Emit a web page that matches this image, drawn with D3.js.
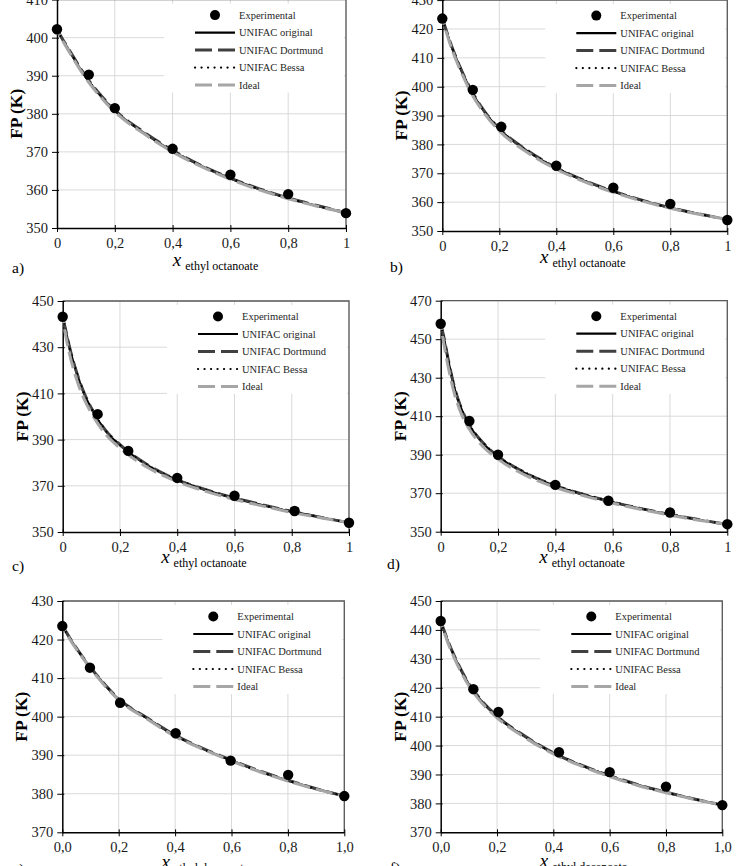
<!DOCTYPE html>
<html>
<head>
<meta charset="utf-8">
<script src="https://cdnjs.cloudflare.com/ajax/libs/d3/7.8.5/d3.min.js"></script>
<style>
body { margin: 0; background: #fff; }
svg text { font-family: "Liberation Serif", "Times New Roman", serif !important; }
</style>
</head>
<body>
<div id="chart"></div>
<script>
// ---- data ----
const legendNames = ["Experimental", "UNIFAC original", "UNIFAC Dortmund", "UNIFAC Bessa", "Ideal"]
const xTickVals = [0, 0.2, 0.4, 0.6, 0.8, 1]
const xLabelsOct = ["0", "0,2", "0,4", "0,6", "0,8", "1"]
const xLabelsDec = ["0,0", "0,2", "0,4", "0,6", "0,8", "1,0"]

// mole fractions where the model curves were read
const curveX = [0, 0.01, 0.025, 0.05, 0.075, 0.1, 0.15, 0.2, 0.3, 0.4, 0.5, 0.6, 0.7, 0.8, 0.9, 1]

// a)
const yTicksA = [350, 360, 370, 380, 390, 400, 410]
const expXA = [0, 0.11, 0.2, 0.4, 0.6, 0.8, 1]
const expYA = [402.2, 390.3, 381.5, 370.8, 364.0, 358.9, 353.9]
const origA = [402.0, 400.7, 398.8, 395.6, 392.5, 389.6, 384.8, 380.8, 375.0, 370.2, 366.3, 363.0, 360.2, 357.8, 355.8, 354.0]
const dortA = [402.0, 400.8, 398.9, 395.8, 392.7, 389.8, 385.0, 381.0, 375.2, 370.4, 366.4, 363.1, 360.3, 357.9, 355.9, 354.0]
const bessaA = [402.0, 400.7, 398.8, 395.7, 392.6, 389.7, 384.9, 380.9, 375.1, 370.3, 366.4, 363.1, 360.2, 357.8, 355.8, 354.0]
const idealA = [402.0, 400.5, 398.5, 395.3, 392.2, 389.3, 384.5, 380.5, 374.8, 370.0, 366.1, 362.8, 360.0, 357.7, 355.7, 354.0]

// b)
const yTicksB = [350, 360, 370, 380, 390, 400, 410, 420, 430]
const expXB = [0, 0.107, 0.207, 0.4, 0.6, 0.8, 1]
const expYB = [423.6, 398.9, 386.1, 372.6, 365.0, 359.4, 353.8]
const origB = [423.5, 420.6, 416.0, 409.5, 403.8, 398.8, 391.0, 385.3, 377.6, 371.8, 367.3, 363.7, 360.6, 358.0, 355.9, 354.0]
const dortB = [423.5, 420.7, 416.2, 409.7, 404.0, 399.0, 391.2, 385.5, 377.8, 371.9, 367.4, 363.8, 360.7, 358.1, 355.9, 354.0]
const bessaB = [423.5, 420.6, 416.1, 409.6, 403.9, 398.9, 391.1, 385.4, 377.7, 371.9, 367.4, 363.7, 360.6, 358.0, 355.9, 354.0]
const idealB = [423.5, 420.2, 415.5, 408.8, 403.1, 398.1, 390.4, 384.7, 377.1, 371.4, 367.0, 363.4, 360.4, 357.9, 355.8, 354.0]

// c)
const yTicksC = [350, 370, 390, 410, 430, 450]
const expXC = [0, 0.122, 0.229, 0.4, 0.6, 0.81, 1]
const expYC = [443.2, 401.0, 385.1, 373.4, 365.7, 359.1, 354.0]
const origC = [443.0, 437.5, 429.2, 418.3, 409.8, 403.5, 393.8, 387.6, 378.6, 372.5, 368.2, 364.6, 361.6, 358.8, 356.4, 354.0]
const dortC = [443.0, 437.7, 429.5, 418.6, 410.1, 403.7, 394.0, 387.8, 378.8, 372.6, 368.3, 364.7, 361.7, 358.9, 356.4, 354.0]
const bessaC = [443.0, 437.6, 429.4, 418.5, 410.0, 403.6, 393.9, 387.7, 378.7, 372.6, 368.3, 364.6, 361.6, 358.8, 356.4, 354.0]
const idealC = [443.0, 435.5, 426.5, 415.6, 407.5, 401.5, 392.3, 386.3, 377.7, 371.8, 367.6, 364.1, 361.2, 358.5, 356.2, 354.0]

// d)
const yTicksD = [350, 370, 390, 410, 430, 450, 470]
const expXD = [0, 0.1, 0.2, 0.4, 0.585, 0.8, 1]
const expYD = [458.0, 407.5, 390.0, 374.3, 366.1, 360.0, 353.9]
const origD = [458.0, 451.5, 440.0, 423.5, 412.7, 405.3, 395.5, 389.0, 380.0, 373.8, 369.2, 365.3, 361.9, 358.9, 356.2, 353.8]
const dortD = [458.0, 451.8, 440.4, 423.9, 413.0, 405.6, 395.8, 389.2, 380.2, 373.9, 369.3, 365.4, 362.0, 359.0, 356.3, 353.8]
const bessaD = [458.0, 451.7, 440.3, 423.8, 413.0, 405.6, 395.9, 389.4, 380.4, 374.1, 369.4, 365.5, 362.0, 359.0, 356.3, 353.8]
const idealD = [458.0, 448.5, 436.5, 420.5, 410.2, 403.2, 393.9, 387.7, 379.0, 373.0, 368.6, 364.8, 361.5, 358.6, 356.0, 353.8]

// e)
const yTicksE = [370, 380, 390, 400, 410, 420, 430]
const expXE = [0, 0.098, 0.205, 0.402, 0.597, 0.801, 1]
const expYE = [423.5, 412.7, 403.6, 395.7, 388.6, 384.9, 379.4]
const origE = [423.5, 422.3, 420.5, 417.7, 415.1, 412.7, 408.3, 404.5, 399.6, 395.1, 391.6, 388.6, 385.8, 383.4, 381.3, 379.4]
const dortE = [423.5, 422.4, 420.6, 417.8, 415.2, 412.8, 408.4, 404.6, 399.7, 395.2, 391.7, 388.7, 385.9, 383.5, 381.3, 379.4]
const bessaE = [423.5, 422.3, 420.5, 417.7, 415.2, 412.8, 408.4, 404.6, 399.6, 395.1, 391.6, 388.6, 385.8, 383.4, 381.3, 379.4]
const idealE = [423.5, 422.2, 420.3, 417.5, 414.9, 412.5, 408.1, 404.3, 399.4, 394.9, 391.5, 388.5, 385.7, 383.3, 381.2, 379.4]

// f)
const yTicksF = [370, 380, 390, 400, 410, 420, 430, 440, 450]
const expXF = [0, 0.116, 0.205, 0.42, 0.6, 0.8, 1]
const expYF = [443.1, 419.5, 411.6, 397.7, 390.8, 385.8, 379.4]
const origF = [443.0, 440.2, 436.2, 430.5, 425.5, 421.2, 414.8, 410.0, 403.0, 397.4, 393.1, 389.5, 386.4, 383.8, 381.5, 379.4]
const dortF = [443.0, 440.3, 436.4, 430.7, 425.7, 421.4, 415.0, 410.2, 403.2, 397.5, 393.2, 389.6, 386.5, 383.9, 381.5, 379.4]
const bessaF = [443.0, 440.2, 436.3, 430.6, 425.6, 421.3, 414.9, 410.1, 403.1, 397.5, 393.2, 389.6, 386.4, 383.8, 381.5, 379.4]
const idealF = [443.0, 439.8, 435.7, 429.9, 424.9, 420.7, 414.3, 409.6, 402.7, 397.1, 392.9, 389.3, 386.2, 383.7, 381.4, 379.4]

// ---- layout of the six panels ----
const panels = [
  {tag: "a)", left: 57, right: 346, top: -0.4, bottom: 228, yTicks: yTicksA, xLabels: xLabelsOct, comp: "ethyl octanoate",
   expX: expXA, expY: expYA, models: [origA, dortA, bessaA, idealA], labelDx: 14, labelDy: 38, tagX: 12, tagY: 273},
  {tag: "b)", left: 442.3, right: 727.3, top: 0.1, bottom: 231, yTicks: yTicksB, xLabels: xLabelsOct, comp: "ethyl octanoate",
   expX: expXB, expY: expYB, models: [origB, dortB, bessaB, idealB], labelDx: -2, labelDy: 32, tagX: 390, tagY: 272},
  {tag: "c)", left: 62.7, right: 349, top: 301, bottom: 532, yTicks: yTicksC, xLabels: xLabelsOct, comp: "ethyl octanoate",
   expX: expXC, expY: expYC, models: [origC, dortC, bessaC, idealC], labelDx: -2, labelDy: 31, tagX: 12, tagY: 571},
  {tag: "d)", left: 440.7, right: 727.3, top: 300.7, bottom: 531.7, yTicks: yTicksD, xLabels: xLabelsOct, comp: "ethyl octanoate",
   expX: expXD, expY: expYD, models: [origD, dortD, bessaD, idealD], labelDx: -2, labelDy: 31, tagX: 387, tagY: 569},
  {tag: "e)", left: 62.3, right: 344.3, top: 601, bottom: 832.3, yTicks: yTicksE, xLabels: xLabelsDec, comp: "ethyl decanoate",
   expX: expXE, expY: expYE, models: [origE, dortE, bessaE, idealE], labelDx: 2, labelDy: 36, tagX: 12, tagY: 874},
  {tag: "f)", left: 440.7, right: 722.3, top: 601, bottom: 832.3, yTicks: yTicksF, xLabels: xLabelsDec, comp: "ethyl decanoate",
   expX: expXF, expY: expYF, models: [origF, dortF, bessaF, idealF], labelDx: 2, labelDy: 35, tagX: 390, tagY: 873}
]

// line styles for the four models (original, Dortmund, Bessa, Ideal)
const modelStyles = [
  {stroke: "#000", width: 2.2, dash: null, cap: "butt", offset: 0},
  {stroke: "#404040", width: 3, dash: "17,6", cap: "butt", offset: 0},
  {stroke: "#000", width: 2.2, dash: "0.1,6.4", cap: "round", offset: 0},
  {stroke: "#a6a6a6", width: 3, dash: "17,6", cap: "butt", offset: 11}
]
const drawOrder = [0, 1, 2, 3]

const svg = d3.select("#chart").append("svg")
  .attr("width", 740)
  .attr("height", 866)
  .style("display", "block")

function drawPanel(p) {
  const x = d3.scaleLinear().domain([0, 1]).range([p.left, p.right])
  const y = d3.scaleLinear()
    .domain([p.yTicks[0], p.yTicks[p.yTicks.length - 1]])
    .range([p.bottom, p.top])

  const g = svg.append("g")

  // gridlines
  g.append("g").selectAll("line")
    .data(p.yTicks.slice(1))
    .join("line")
    .attr("x1", p.left).attr("x2", p.right)
    .attr("y1", d => y(d)).attr("y2", d => y(d))
    .attr("stroke", "#d9d9d9").attr("stroke-width", 1)
  g.append("g").selectAll("line")
    .data(xTickVals.slice(1))
    .join("line")
    .attr("x1", d => x(d)).attr("x2", d => x(d))
    .attr("y1", p.top).attr("y2", p.bottom)
    .attr("stroke", "#d9d9d9").attr("stroke-width", 1)

  // legend background hides the grid behind it
  g.append("rect")
    .attr("x", p.right - 182).attr("y", p.top + 4)
    .attr("width", 180).attr("height", 89)
    .attr("fill", "#fff")

  // top and right border of the plot area
  g.append("path")
    .attr("d", `M${p.left},${p.top}H${p.right}V${p.bottom}`)
    .attr("fill", "none").attr("stroke", "#595959").attr("stroke-width", 1.3)

  // axes
  const xAxis = d3.axisBottom(x).tickValues(xTickVals)
    .tickFormat((d, i) => p.xLabels[i]).tickSize(4).tickSizeOuter(0)
  const gx = g.append("g").attr("transform", `translate(0,${p.bottom})`).call(xAxis)
  gx.select(".domain").attr("stroke", "#000").attr("stroke-width", 1.5)
  gx.selectAll(".tick line").attr("y1", -3).attr("stroke", "#000")
  gx.selectAll(".tick text").attr("y", 20).attr("dy", null)
    .attr("font-size", 14.5).attr("fill", "#1a1a1a")

  const yAxis = d3.axisLeft(y).tickValues(p.yTicks).tickSize(5).tickSizeOuter(0)
  const gy = g.append("g").attr("transform", `translate(${p.left},0)`).call(yAxis)
  gy.select(".domain").attr("stroke", "#000").attr("stroke-width", 1.5)
  gy.selectAll(".tick line").attr("x2", -5).attr("x1", 2).attr("stroke", "#000")
  gy.selectAll(".tick text").attr("x", -9)
    .attr("font-size", 14.5).attr("fill", "#1a1a1a")

  // model curves
  const line = d3.line()
    .x(d => x(d[0]))
    .y(d => y(d[1]))
    .curve(d3.curveMonotoneX)
  drawOrder.forEach(k => {
    const s = modelStyles[k]
    const pts = curveX.map((v, i) => [v, p.models[k][i]])
    g.append("path")
      .datum(pts)
      .attr("d", line)
      .attr("fill", "none")
      .attr("stroke", s.stroke)
      .attr("stroke-width", s.width)
      .attr("stroke-dasharray", s.dash)
      .attr("stroke-dashoffset", s.offset)
      .attr("stroke-linecap", s.cap)
  })

  // experimental points
  g.append("g").selectAll("circle")
    .data(p.expX.map((v, i) => [v, p.expY[i]]))
    .join("circle")
    .attr("cx", d => x(d[0]))
    .attr("cy", d => y(d[1]))
    .attr("r", 5.2)
    .attr("fill", "#000")

  // legend
  const lg = g.append("g")
  const x0 = p.right - 151, x1 = p.right - 111
  legendNames.forEach((name, i) => {
    const ry = p.top + 15.5 + i * 17.5
    if (i === 0) {
      lg.append("circle").attr("cx", (x0 + x1) / 2).attr("cy", ry).attr("r", 5).attr("fill", "#000")
    } else {
      const s = modelStyles[i - 1]
      lg.append("line")
        .attr("x1", x0).attr("x2", x1).attr("y1", ry).attr("y2", ry)
        .attr("stroke", s.stroke)
        .attr("stroke-width", s.width)
        .attr("stroke-dasharray", s.dash)
        .attr("stroke-linecap", s.cap)
    }
    lg.append("text")
      .attr("x", p.right - 107).attr("y", ry)
      .attr("dy", "0.35em")
      .attr("font-size", 10.5)
      .attr("fill", "#262626")
      .text(name)
  })

  // axis titles
  g.append("text")
    .attr("transform", `translate(${p.left - 41},${(p.top + p.bottom) / 2}) rotate(-90)`)
    .attr("text-anchor", "middle")
    .attr("dy", "0.35em")
    .attr("font-size", 17.5)
    .attr("font-weight", "bold")
    .attr("fill", "#000")
    .text("FP (K)")

  const xt = g.append("text")
    .attr("x", (p.left + p.right) / 2 + p.labelDx)
    .attr("y", p.bottom + p.labelDy)
    .attr("text-anchor", "middle")
    .attr("fill", "#000")
  xt.append("tspan").attr("font-style", "italic").attr("font-size", 19).text("x")
  xt.append("tspan").attr("font-size", 12).attr("dx", 4).attr("dy", 4).text(p.comp)

  g.append("text")
    .attr("x", p.tagX).attr("y", p.tagY)
    .attr("font-size", 15.5)
    .attr("fill", "#000")
    .text(p.tag)
}

panels.forEach(drawPanel)
</script>
</body>
</html>
